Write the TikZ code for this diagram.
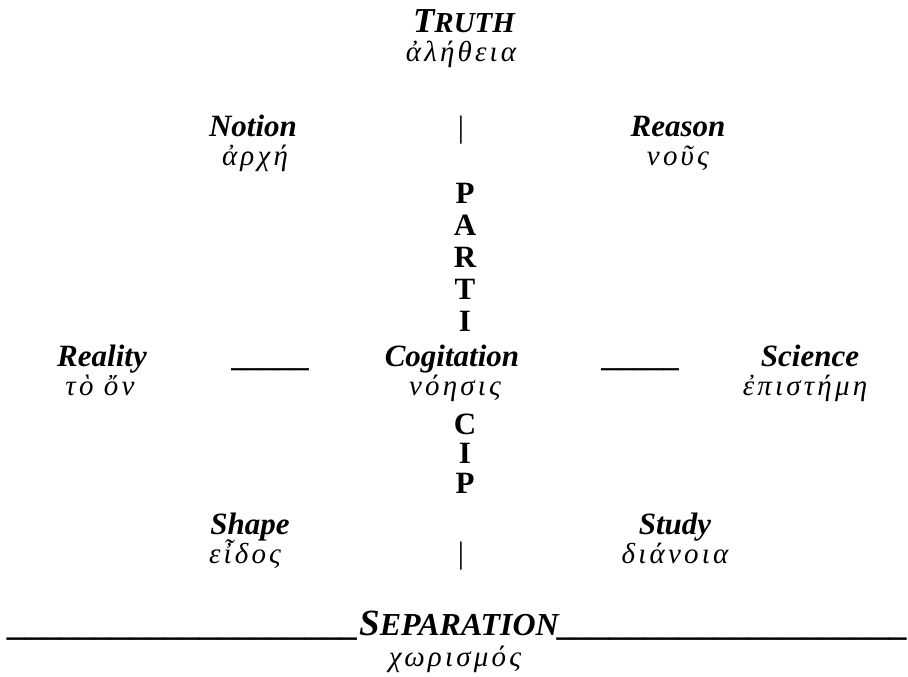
\documentclass[tikz,border=0pt]{standalone}
\usepackage{fontspec}
\setmainfont{Liberation Serif}
\newfontfamily\greekfont[Script=Greek,LetterSpace=11]{Liberation Serif}
\newcommand{\scbig}[1]{{\fontsize{35}{35}\selectfont #1}}
\newcommand{\scsmall}[1]{{\fontsize{29}{35}\selectfont #1}}
\newcommand{\sepbig}[1]{{\fontsize{37}{35}\selectfont #1}}
\newcommand{\sepsmall}[1]{{\fontsize{32}{35}\selectfont #1}}
\newcommand{\uline}{{\fontsize{35}{35}\selectfont\_\_\_\_\_\_\_\_\_\_\_\_\_\_\_\_\_\_\_\_}}
\begin{document}
\begin{tikzpicture}[x=1pt,y=-1pt,
  lab/.style={anchor=base,inner sep=0pt,font=\fontsize{31}{33}\selectfont\bfseries\itshape},
  grk/.style={anchor=base,inner sep=0pt,font=\fontsize{29}{33}\selectfont\greekfont\itshape},
  colletter/.style={anchor=base,inner sep=0pt,font=\fontsize{31}{33}\selectfont\bfseries},
  barmark/.style={anchor=base,inner sep=0pt,font=\fontsize{31}{33}\selectfont}]
\useasboundingbox (0,0) rectangle (908,677);
% top
\node[lab] (truth) at (464,33) {\scbig{T}\scsmall{RUTH}};
\node[grk] (aletheia) at (461,62) {ἀλήθεια};
% row 2
\node[lab] (notion) at (253,136) {Notion};
\node[grk] (arche) at (255,165) {ἀρχή};
\node[barmark] (topbar) at (461,137) {|};
\node[lab] (reason) at (678,136) {Reason};
\node[grk] (nous) at (678,165) {νοῦς};
% column
\node[colletter] (p1) at (465,203) {P};
\node[colletter] (a1) at (465,235) {A};
\node[colletter] (r1) at (465,267) {R};
\node[colletter] (t1) at (465,299) {T};
\node[colletter] (i1) at (465,331) {I};
% middle row
\node[lab] (reality) at (102,366) {Reality};
\node[grk] (toon) at (100,395) {τὸ ὄν};
\node[lab] (uleft) at (272,366) {\_\_\_\_\_};
\node[lab] (cogitation) at (452,366) {Cogitation};
\node[grk] (noesis) at (455,395) {νόησις};
\node[lab] (uright) at (642,366) {\_\_\_\_\_};
\node[lab] (science) at (810,366) {Science};
\node[grk] (episteme) at (805,395) {ἐπιστήμη};
% column lower
\node[colletter] (c2) at (465,434) {C};
\node[colletter] (i2) at (465,463) {I};
\node[colletter] (p2) at (465,493) {P};
% row 4
\node[lab] (shape) at (250,534) {Shape};
\node[grk] (eidos) at (245,563) {εἶδος};
\node[barmark] (botbar) at (461,563) {|};
\node[lab] (study) at (675,534) {Study};
\node[grk] (dianoia) at (675,563) {διάνοια};
% bottom
\node[lab] (separation) at (459,635) {\uline\sepbig{S}\sepsmall{EPARATION}\uline};
\node[grk] (chorismos) at (455,666) {χωρισμός};
\end{tikzpicture}
\end{document}
